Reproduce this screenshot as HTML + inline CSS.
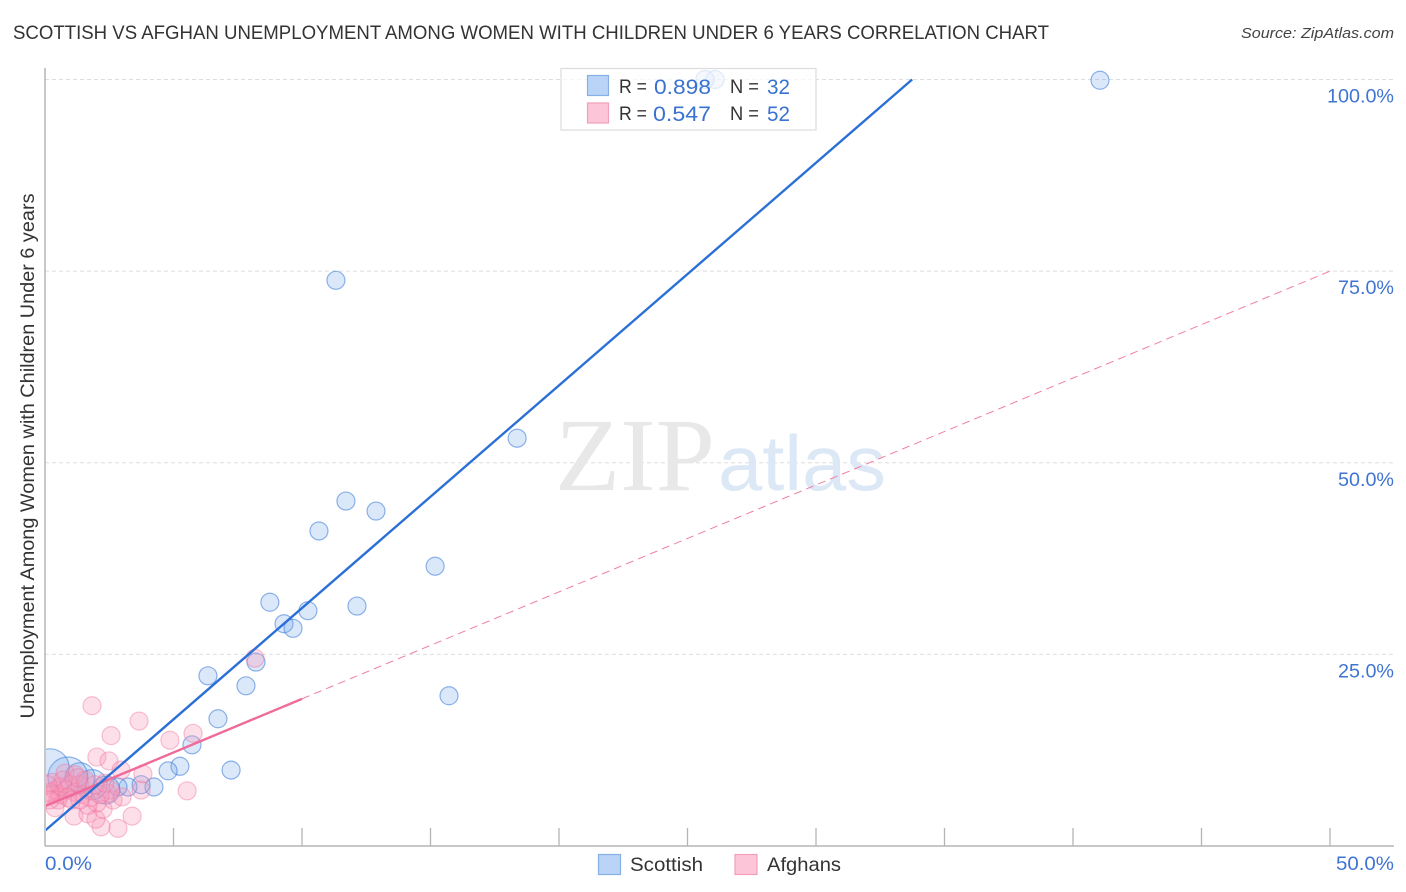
<!DOCTYPE html>
<html lang="en">
<head>
<meta charset="utf-8">
<title>Scottish vs Afghan Unemployment Correlation Chart</title>
<style>
html,body{margin:0;padding:0;background:#fff;width:1406px;height:892px;overflow:hidden}
svg{display:block}
text{font-family:"Liberation Sans",sans-serif}
</style>
</head>
<body>
<svg id="chart" xmlns="http://www.w3.org/2000/svg" width="1406" height="892" viewBox="0 0 1406 892">
  <defs><clipPath id="plot-clip"><rect x="46" y="60" width="1348" height="786"/></clipPath></defs>
  <text x="13" y="39" font-size="19" fill="#333" textLength="1036" lengthAdjust="spacingAndGlyphs">SCOTTISH VS AFGHAN UNEMPLOYMENT AMONG WOMEN WITH CHILDREN UNDER 6 YEARS CORRELATION CHART</text>
  <text x="1394" y="38" font-size="15" font-style="italic" fill="#444" text-anchor="end" textLength="153" lengthAdjust="spacingAndGlyphs">Source: ZipAtlas.com</text>
  <g id="grid"></g>
  <g>
    <text x="555" y="490" font-size="104" fill="#e8e8e8" textLength="160" lengthAdjust="spacingAndGlyphs" style="font-family:'Liberation Serif',serif">ZIP</text>
    <text x="718" y="490" font-size="78" fill="#dde8f6" textLength="168" lengthAdjust="spacingAndGlyphs">atlas</text>
  </g>
  <line x1="45" y1="68" x2="45" y2="846" stroke="#b5b5b5" stroke-width="1.5"/>
  <line x1="45" y1="846" x2="1394" y2="846" stroke="#b5b5b5" stroke-width="1.5"/>
  <g id="xticks"></g>
  <g id="points" clip-path="url(#plot-clip)"></g>
  <g id="lines" clip-path="url(#plot-clip)"></g>
  <g id="ylabels"></g>
  <g id="xlabels"></g>
  <text transform="translate(34,456) rotate(-90)" font-size="19" fill="#333" text-anchor="middle" textLength="525" lengthAdjust="spacingAndGlyphs">Unemployment Among Women with Children Under 6 years</text>

  <g>
    <rect x="561" y="68.5" width="255" height="61.5" fill="#fff" fill-opacity="0.72" stroke="#dcdcdc" stroke-width="1.2"/>
    <rect x="587.5" y="75.5" width="21" height="20" fill="#b9d4f7" stroke="#86b0e6" stroke-width="1.2"/>
    <rect x="587.5" y="103" width="21" height="20" fill="#fdc5d8" stroke="#f0a0bb" stroke-width="1.2"/>
    <text x="619" y="93" font-size="19" fill="#333" textLength="28" lengthAdjust="spacingAndGlyphs">R =</text>
    <text x="654" y="94" font-size="21" fill="#3a72d0" textLength="57" lengthAdjust="spacingAndGlyphs">0.898</text>
    <text x="730" y="93" font-size="19" fill="#333" textLength="29" lengthAdjust="spacingAndGlyphs">N =</text>
    <text x="767" y="94" font-size="21" fill="#3a72d0" textLength="23" lengthAdjust="spacingAndGlyphs">32</text>
    <text x="619" y="120" font-size="19" fill="#333" textLength="28" lengthAdjust="spacingAndGlyphs">R =</text>
    <text x="653" y="121" font-size="21" fill="#3a72d0" textLength="58" lengthAdjust="spacingAndGlyphs">0.547</text>
    <text x="730" y="120" font-size="19" fill="#333" textLength="29" lengthAdjust="spacingAndGlyphs">N =</text>
    <text x="767" y="121" font-size="21" fill="#3a72d0" textLength="23" lengthAdjust="spacingAndGlyphs">52</text>
  </g>

  <g>
    <rect x="598.5" y="854.5" width="22" height="20" fill="#b9d4f7" stroke="#86b0e6" stroke-width="1.2"/>
    <text x="630" y="871" font-size="19.5" fill="#333" textLength="73" lengthAdjust="spacingAndGlyphs">Scottish</text>
    <rect x="735" y="854.5" width="22" height="20" fill="#fdc5d8" stroke="#f0a0bb" stroke-width="1.2"/>
    <text x="767" y="871" font-size="19.5" fill="#333" textLength="74" lengthAdjust="spacingAndGlyphs">Afghans</text>
  </g>
</svg>
<script>
const xTickValues = [0,5,10,15,20,25,30,35,40,45,50];
const yTickValues = [25,50,75,100];
const yTickLabels = ['25.0%','50.0%','75.0%','100.0%'];
const xEndLabels = ['0.0%','50.0%'];
const xEndValues = [0,50];

const scottishX = [41.05,26.07,25.68,11.32,18.37,11.71,12.88,10.66,15.18,8.75,10.23,12.14,9.3,9.65,15.72,6.34,8.21,7.82,6.73,5.72,5.25,4.79,7.24,4.24,3.74,3.23,2.84,2.37,1.83,1.36,0.89,0.2];
const scottishY = [99.9,100,100,73.8,53.2,45.0,43.7,41.1,36.5,31.8,30.7,31.3,29.0,28.4,19.6,22.2,24.0,20.9,16.6,13.2,10.4,9.8,9.9,7.7,8.0,7.7,7.7,7.3,8.0,8.9,9.0,10.2];
const scottishWeight = [1,1,1,1,1,1,1,1,1,1,1,1,1,1,1,1,1,1,1,1,1,1,1,1,1,1,1,2.4,2.8,2.8,4.94,4.46];

const afghanX = [1.83,3.66,2.57,2.02,2.49,4.86,5.76,8.17,2.96,3.81,3.74,5.53,3.39,2.84,2.18,1.13,0.39,1.67,1.98,2.26,2.65,1.48,2.45,0.58,1.17,0.78,0.27,0.27,0.39,0.58,0.82,0.97,1.17,1.36,1.56,0.89,0.51,0.19,0.7,1.28,1.05,1.75,2.02,1.67,1.36,2.53,2.14,1.95,3.0,2.33,0.1,0.19];
const afghanY = [18.3,16.3,14.4,11.6,11.1,13.8,14.7,24.5,9.9,9.4,7.3,7.2,3.9,2.3,2.5,3.9,5.0,4.2,3.5,4.8,6.0,6.7,6.9,6.7,9.3,9.5,8.3,6.7,7.3,7.7,7.3,8.0,7.0,8.0,8.6,6.3,6.0,7.0,8.6,8.9,6.0,6.3,5.6,5.3,6.0,7.3,6.7,8.0,6.4,8.2,8.0,6.0];

const scottishTrendX = [0,33.74];
const scottishTrendY = [2.0,100];
const afghanSolidX = [0,10];
const afghanSolidY = [5.2,19.2];
const afghanDashedX = [10,50];
const afghanDashedY = [19.2,75];

const NS = 'http://www.w3.org/2000/svg';
const xScale = v => 45 + v * 25.7;
const yScale = v => 846 - v * 7.665;
const radius = w => 9 * Math.sqrt(w);

function make(tag, attrs, parent) {
  const el = document.createElementNS(NS, tag);
  for (const k in attrs) el.setAttribute(k, attrs[k]);
  parent.appendChild(el);
  return el;
}

const grid = document.getElementById('grid');
yTickValues.forEach(v => {
  const el = make('line', {x1: 45, x2: 1394, y1: yScale(v), y2: yScale(v), stroke: '#dedede', 'stroke-width': 1, 'stroke-dasharray': '4 3'}, grid);
  
  
});

const xticks = document.getElementById('xticks');
xTickValues.slice(1).forEach(v => {
  const el = make('line', {x1: xScale(v), x2: xScale(v), y1: 828, y2: 846, stroke: '#b5b5b5', 'stroke-width': 1.3}, xticks);
  
  
});

const ylabels = document.getElementById('ylabels');
yTickValues.forEach((v, i) => {
  const el = make('text', {x: 1394, y: yScale(v) + 23, 'font-size': 19.5, fill: '#3f74d2', 'text-anchor': 'end', textLength: yTickLabels[i].length === 6 ? 67 : 56, lengthAdjust: 'spacingAndGlyphs'}, ylabels);
  el.textContent = yTickLabels[i];
  
  
});

const xlabels = document.getElementById('xlabels');
xEndValues.forEach((v, i) => {
  const el = make('text', {x: i === 0 ? xScale(v) : 1394, y: 870, 'font-size': 19.5, fill: '#3f74d2', 'text-anchor': i === 0 ? 'start' : 'end', textLength: i === 0 ? 47 : 58, lengthAdjust: 'spacingAndGlyphs'}, xlabels);
  el.textContent = xEndLabels[i];
  
  
});

const points = document.getElementById('points');
scottishX.forEach((v, i) => {
  const el = make('circle', {cx: xScale(v), cy: yScale(scottishY[i]), r: radius(scottishWeight[i]), fill: 'rgba(110,165,235,0.25)', stroke: 'rgba(55,120,215,0.55)', 'stroke-width': 1.2}, points);
  
  
});
afghanX.forEach((v, i) => {
  const el = make('circle', {cx: xScale(v), cy: yScale(afghanY[i]), r: radius(1), fill: 'rgba(248,150,185,0.3)', stroke: 'rgba(238,115,155,0.44)', 'stroke-width': 1.2}, points);
  
  
});

const lines = document.getElementById('lines');
const dashed = make('line', {x1: xScale(afghanDashedX[0]), y1: yScale(afghanDashedY[0]), x2: xScale(afghanDashedX[1]), y2: yScale(afghanDashedY[1]), stroke: '#ee7fa3', 'stroke-width': 1, 'stroke-dasharray': '8 5'}, lines);


const solidPink = make('line', {x1: xScale(afghanSolidX[0]), y1: yScale(afghanSolidY[0]), x2: xScale(afghanSolidX[1]), y2: yScale(afghanSolidY[1]), stroke: '#ee6b9a', 'stroke-width': 2.4}, lines);


const solidBlue = make('line', {x1: xScale(scottishTrendX[0]), y1: yScale(scottishTrendY[0]), x2: xScale(scottishTrendX[1]), y2: yScale(scottishTrendY[1]), stroke: '#2b70d6', 'stroke-width': 2.4}, lines);


</script>
</body>
</html>
